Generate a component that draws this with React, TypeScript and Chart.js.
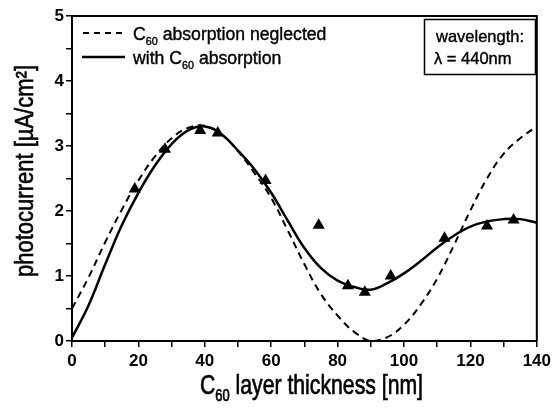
import React, { useEffect, useRef } from "react";
import { Chart, registerables } from "chart.js";

Chart.register(...registerables);

const FONT = "'Liberation Sans', Arial, Helvetica, sans-serif";

// Layer thickness grid (nm) for the two simulated curves
const curveX = [0, 5, 10, 15, 20, 25, 30, 35, 40, 45, 50, 55, 60, 65, 70, 75, 80, 85, 90, 95, 100, 105, 110, 115, 120, 125, 130, 135, 140];
// Simulation with C60 absorption (solid)
const withAbsorption = [0.05, 0.55, 1.18, 1.78, 2.28, 2.7, 3.03, 3.24, 3.3, 3.18, 2.93, 2.64, 2.28, 1.85, 1.43, 1.12, 0.93, 0.83, 0.79, 0.89, 1.04, 1.23, 1.44, 1.62, 1.76, 1.84, 1.875, 1.875, 1.82];
// Simulation with C60 absorption neglected (dashed)
const absorptionNeglected = [0.5, 0.98, 1.52, 2.02, 2.47, 2.84, 3.12, 3.28, 3.31, 3.18, 2.92, 2.58, 2.2, 1.7, 1.18, 0.72, 0.39, 0.14, 0.0, 0.06, 0.25, 0.56, 0.96, 1.47, 2.01, 2.5, 2.88, 3.12, 3.3];
// Measured photocurrent (triangles)
const measuredX = [18.9, 28, 38.6, 43.9, 58.3, 74.3, 83.1, 88.2, 96, 112.2, 125, 133];
const measuredY = [2.34, 2.95, 3.24, 3.2, 2.47, 1.78, 0.85, 0.75, 1.0, 1.58, 1.77, 1.86];

const xLabelEvery = 20;
const yLabelEvery = 1;

const xTitleParts = [
  { text: "C", sub: false },
  { text: "60", sub: true },
  { text: " layer thickness [nm]", sub: false },
];
const yTitle = "photocurrent [µA/cm²]";
const legend1 = [
  { text: "C", sub: false },
  { text: "60", sub: true },
  { text: " absorption neglected", sub: false },
];
const legend2 = [
  { text: "with C", sub: false },
  { text: "60", sub: true },
  { text: " absorption", sub: false },
];
const boxLines = ["wavelength:", "λ = 440nm"];

type Part = { text: string; sub: boolean };

function drawRich(
  ctx: CanvasRenderingContext2D,
  parts: Part[],
  x: number,
  y: number,
  size: number,
  subSize: number,
  subDy: number,
  sx = 1,
  heavy = 0.5
) {
  ctx.save();
  ctx.translate(x, y);
  ctx.scale(sx, 1);
  ctx.lineWidth = heavy;
  ctx.lineJoin = "round";
  let cx = 0;
  for (const p of parts) {
    ctx.font = `${p.sub ? subSize : size}px ${FONT}`;
    ctx.fillText(p.text, cx, p.sub ? subDy : 0);
    if (heavy > 0) ctx.strokeText(p.text, cx, p.sub ? subDy : 0);
    cx += ctx.measureText(p.text).width;
  }
  ctx.restore();
}

function richWidth(ctx: CanvasRenderingContext2D, parts: Part[], size: number, subSize: number) {
  let w = 0;
  for (const p of parts) {
    ctx.font = `${p.sub ? subSize : size}px ${FONT}`;
    w += ctx.measureText(p.text).width;
  }
  return w;
}

const overlayPlugin = {
  id: "overlay",
  afterDraw(chart: any) {
    const ctx: CanvasRenderingContext2D = chart.ctx;
    const a = chart.chartArea;
    ctx.save();
    ctx.strokeStyle = "#000";
    ctx.fillStyle = "#000";
    ctx.lineWidth = 2;
    ctx.setLineDash([]);
    ctx.beginPath();
    ctx.moveTo(a.left, a.top);
    ctx.lineTo(a.right, a.top);
    ctx.lineTo(a.right, a.bottom);
    ctx.stroke();

    // Legend
    ctx.textBaseline = "alphabetic";
    ctx.textAlign = "left";
    ctx.lineWidth = 2;
    ctx.setLineDash([6, 5]);
    ctx.beginPath();
    ctx.moveTo(83, 33);
    ctx.lineTo(125, 33);
    ctx.stroke();
    ctx.setLineDash([]);
    ctx.lineWidth = 2.5;
    ctx.beginPath();
    ctx.moveTo(82, 57);
    ctx.lineTo(125, 57);
    ctx.stroke();
    drawRich(ctx, legend1, 133, 40, 18, 11, 5, 0.98, 0.4);
    drawRich(ctx, legend2, 133, 64, 18, 11, 5, 0.98, 0.4);

    // Wavelength box
    ctx.lineWidth = 1.5;
    ctx.strokeRect(424.5, 19.5, 111, 55);
    drawRich(ctx, [{ text: boxLines[0], sub: false }], 436, 42, 16.5, 11, 0, 1, 0.4);
    drawRich(ctx, [{ text: boxLines[1], sub: false }], 434, 64, 16.5, 11, 0, 1, 0.4);

    // X title (condensed)
    const xs = 28;
    const xsub = 17;
    const xw = richWidth(ctx, xTitleParts, xs, xsub);
    drawRich(ctx, xTitleParts, 200, 394, xs, xsub, 7, 223 / xw, 0.7);

    // Y title
    ctx.font = `25px ${FONT}`;
    const yw = ctx.measureText(yTitle).width;
    ctx.save();
    ctx.translate(33, 277);
    ctx.rotate(-Math.PI / 2);
    ctx.scale(212 / yw, 1);
    ctx.lineWidth = 0.6;
    ctx.fillText(yTitle, 0, 0);
    ctx.strokeText(yTitle, 0, 0);
    ctx.restore();

    ctx.restore();
  },
};

export default function App() {
  const ref = useRef<HTMLCanvasElement | null>(null);
  useEffect(() => {
    if (!ref.current) return;
    const chart = new Chart(ref.current, {
      type: "line",
      data: {
        datasets: [
          {
            label: "measured",
            data: measuredX.map((x, i) => ({ x, y: measuredY[i] })),
            showLine: false,
            pointStyle: "triangle",
            pointRadius: 7,
            pointBackgroundColor: "#000",
            pointBorderColor: "#000",
            pointBorderWidth: 0,
          },
          {
            label: "with C60 absorption",
            data: curveX.map((x, i) => ({ x, y: withAbsorption[i] })),
            borderColor: "#000",
            borderWidth: 2.5,
            pointRadius: 0,
            tension: 0.4,
            fill: false,
          },
          {
            label: "C60 absorption neglected",
            data: curveX.map((x, i) => ({ x, y: absorptionNeglected[i] })),
            borderColor: "#000",
            borderWidth: 2,
            borderDash: [7, 5],
            pointRadius: 0,
            tension: 0.4,
            fill: false,
          },
        ],
      },
      options: {
        animation: false,
        responsive: false,
        maintainAspectRatio: false,
        events: [],
        layout: { padding: { top: 16, right: 17, left: 0, bottom: 0 } },
        plugins: { legend: { display: false }, tooltip: { enabled: false } },
        scales: {
          x: {
            type: "linear",
            min: 0,
            max: 140,
            afterFit: (s: any) => {
              s.height = 68;
            },
            ticks: {
              stepSize: 10,
              autoSkip: false,
              maxRotation: 0,
              padding: 4,
              color: "#000",
              font: { family: FONT, size: 17, weight: "bold" },
              callback: (v: any) => (Number(v) % xLabelEvery === 0 ? String(v) : ""),
            },
            grid: { drawOnChartArea: false, drawTicks: true, tickLength: 6, color: "#000", lineWidth: 1.5 },
            border: { color: "#000", width: 2 },
          },
          y: {
            type: "linear",
            min: 0,
            max: 5,
            afterFit: (s: any) => {
              s.width = 72;
            },
            ticks: {
              stepSize: 0.5,
              autoSkip: false,
              padding: 2,
              color: "#000",
              font: { family: FONT, size: 17, weight: "bold" },
              callback: (v: any) => (Math.abs(Number(v) % yLabelEvery) < 1e-9 ? String(v) : ""),
            },
            grid: { drawOnChartArea: false, drawTicks: true, tickLength: 6, color: "#000", lineWidth: 1.5 },
            border: { color: "#000", width: 2 },
          },
        },
      },
      plugins: [overlayPlugin],
    } as any);
    return () => chart.destroy();
  }, []);
  return (
    <div style={{ position: "fixed", left: 0, top: 0, width: 555, height: 409, background: "#fff" }}>
      <canvas ref={ref} width={555} height={409} style={{ display: "block" }} />
    </div>
  );
}
